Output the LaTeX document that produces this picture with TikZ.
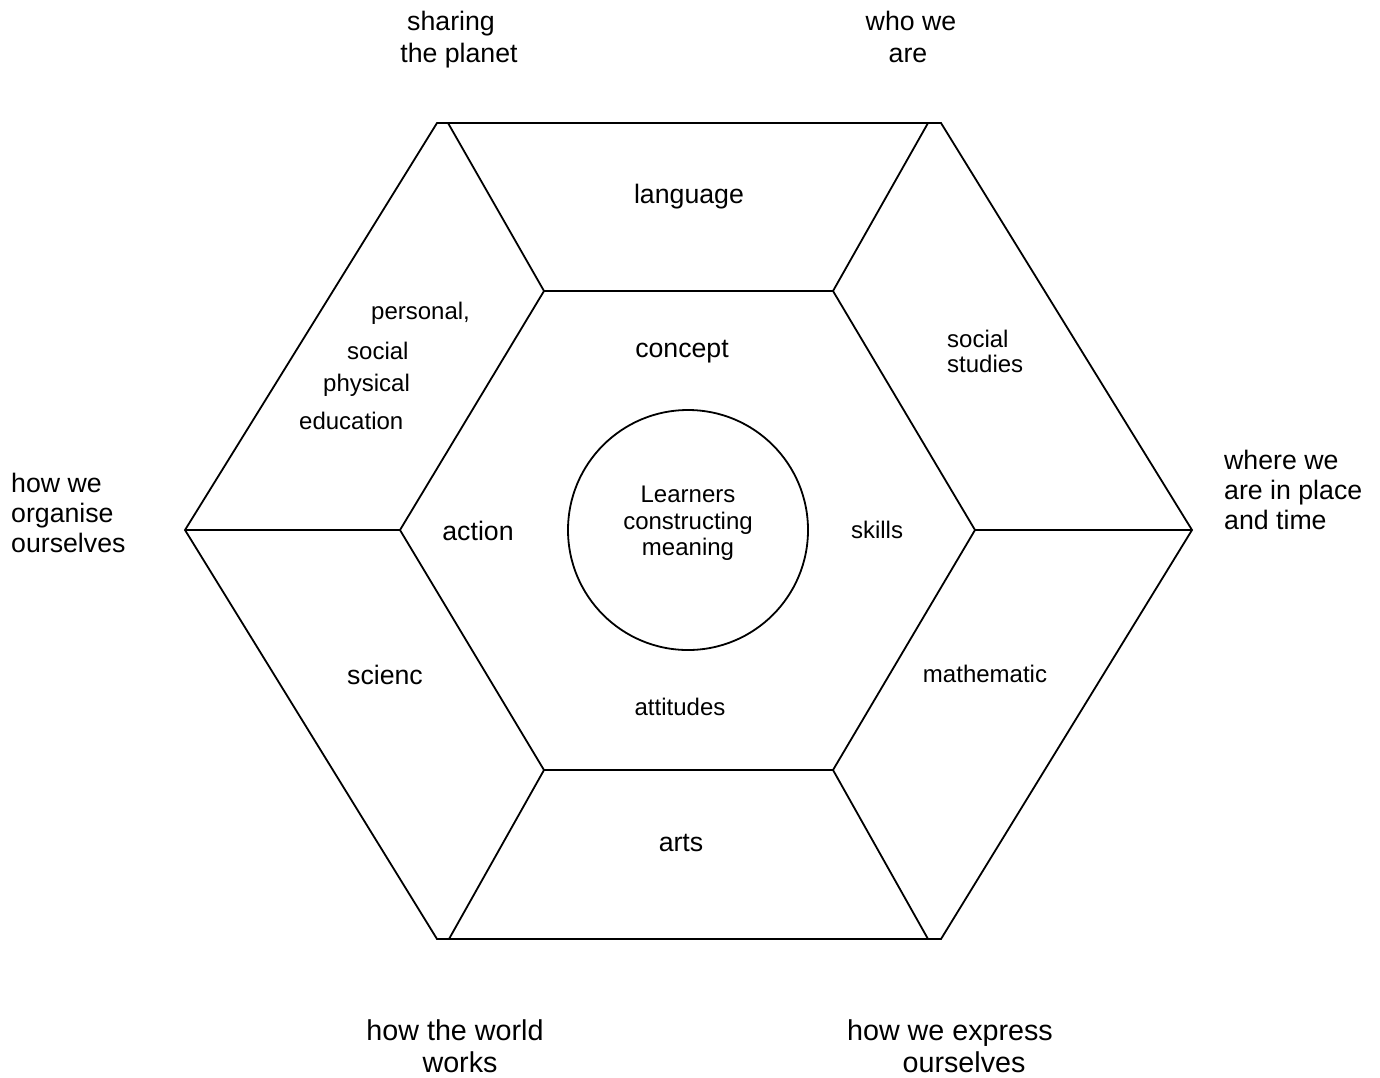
\documentclass[tikz,border=0pt]{standalone}
\usepackage{fontspec}
\setmainfont{Liberation Sans}
\begin{document}
\begin{tikzpicture}[x=1pt,y=-1pt,
  edge/.style={line width=1.8pt,line join=miter},
  bigtxt/.style={inner sep=0pt,anchor=base,font=\fontsize{26.7}{30}\selectfont},
  bottxt/.style={inner sep=0pt,anchor=base,font=\fontsize{28.7}{33}\selectfont},
  smalltxt/.style={inner sep=0pt,anchor=base,font=\fontsize{24}{27}\selectfont},
  lefttxt/.style={anchor=base west}]
\useasboundingbox (0,0) rectangle (1380,1077);
% outer vertices
\coordinate (OTL) at (437,123);
\coordinate (OTR) at (941,123);
\coordinate (OL) at (185,530);
\coordinate (OR) at (1192,530);
\coordinate (OBL) at (437,939);
\coordinate (OBR) at (941,939);
% spoke feet on outer edges
\coordinate (STL) at (448,123);
\coordinate (STR) at (928,123);
\coordinate (SBL) at (449,939);
\coordinate (SBR) at (928,939);
% inner hexagon
\coordinate (ITL) at (544,291);
\coordinate (ITR) at (833,291);
\coordinate (IR) at (975,530);
\coordinate (IBR) at (833,770);
\coordinate (IBL) at (544,770);
\coordinate (IL) at (400,530);
% outline
\draw[edge] (OTL) -- (OTR) -- (OR) -- (OBR) -- (OBL) -- (OL) -- cycle;
\draw[edge] (ITL) -- (ITR) -- (IR) -- (IBR) -- (IBL) -- (IL) -- cycle;
\draw[edge] (OL) -- (IL);
\draw[edge] (IR) -- (OR);
\draw[edge] (STL) -- (ITL);
\draw[edge] (STR) -- (ITR);
\draw[edge] (SBL) -- (IBL);
\draw[edge] (SBR) -- (IBR);
% circle
\node[draw,circle,line width=1.8pt,minimum size=240pt,inner sep=0pt] (core) at (688,530) {};
% outer labels
\node[bigtxt] (t1a) at (451,30) {sharing};
\node[bigtxt] (t1b) at (459,62) {the planet};
\node[bigtxt] (t2a) at (911,30) {who we};
\node[bigtxt] (t2b) at (908,62) {are};
\node[bigtxt,lefttxt] (t3a) at (11,492) {how we};
\node[bigtxt,lefttxt] (t3b) at (11,522) {organise};
\node[bigtxt,lefttxt] (t3c) at (11,552) {ourselves};
\node[bigtxt,lefttxt] (t4a) at (1224,469) {where we};
\node[bigtxt,lefttxt] (t4b) at (1224,499) {are in place};
\node[bigtxt,lefttxt] (t4c) at (1224,529) {and time};
\node[bottxt] (t5a) at (455,1040) {how the world};
\node[bottxt] (t5b) at (460,1072) {works};
\node[bottxt] (t6a) at (950,1040) {how we express};
\node[bottxt] (t6b) at (964,1072) {ourselves};
% subject labels
\node[bigtxt] (lang) at (689,203) {language};
\node[bigtxt] (arts) at (681,851) {arts};
\node[bigtxt] (sci) at (385,684) {scienc};
\node[smalltxt] (math) at (985,682) {mathematic};
\node[smalltxt,lefttxt] (ss1) at (947,347) {social};
\node[smalltxt,lefttxt] (ss2) at (947,372) {studies};
\node[smalltxt,lefttxt] (pe1) at (371,319) {personal,};
\node[smalltxt,lefttxt] (pe2) at (347,359) {social};
\node[smalltxt,lefttxt] (pe3) at (323,391) {physical};
\node[smalltxt,lefttxt] (pe4) at (299,429) {education};
% inner labels
\node[bigtxt] (conc) at (682,357) {concept};
\node[bigtxt] (act) at (478,540) {action};
\node[smalltxt] (skl) at (877,538) {skills};
\node[smalltxt] (att) at (680,715) {attitudes};
\node[smalltxt] (c1) at (688,502) {Learners};
\node[smalltxt] (c2) at (688,529) {constructing};
\node[smalltxt] (c3) at (688,555) {meaning};
\end{tikzpicture}
\end{document}
